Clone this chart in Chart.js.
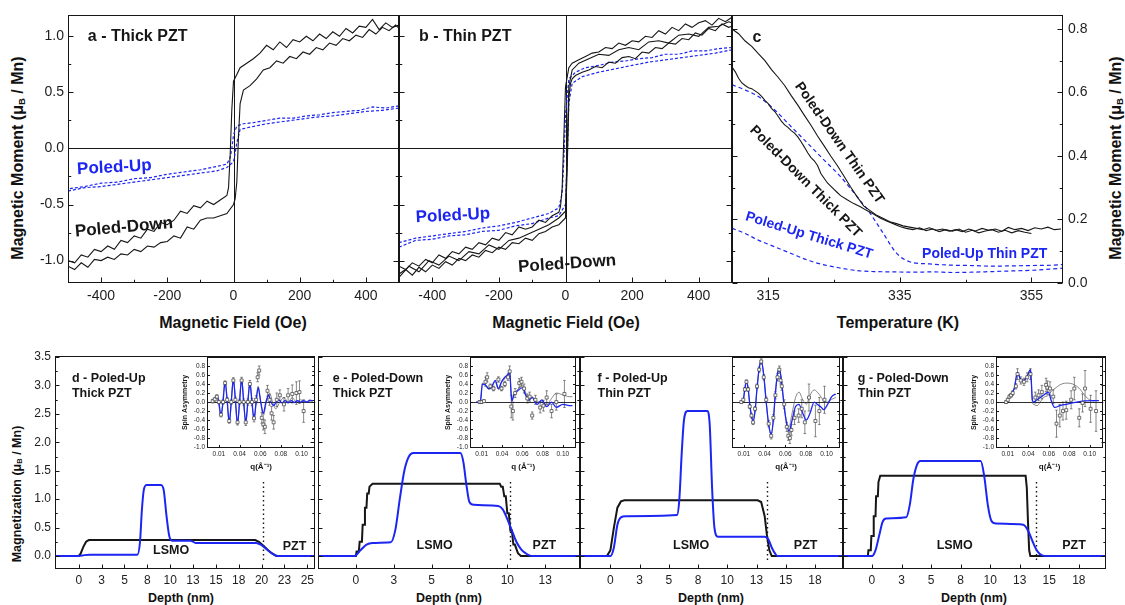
<!DOCTYPE html>
<html lang="en">
<head>
<meta charset="UTF-8">
<title>Magnetic moment and depth profiles, LSMO / PZT</title>
<script src="https://cdn.jsdelivr.net/npm/chart.js"></script>
<style>
  body { margin: 0; background: #fff; }
  #fig { position: relative; width: 1125px; height: 605px; overflow: hidden; background: #fff;
         font-family: Arial, "Liberation Sans", sans-serif; color: #111; }
  #fig canvas { position: absolute; }
  .ttl { position: absolute; font-weight: bold; white-space: nowrap; transform: translate(-50%, -50%); }
  .rot { transform: translate(-50%, -50%) rotate(-90deg); }
  sub { font-size: 0.6em; vertical-align: -0.2em; }
</style>
</head>
<body>
<div id="fig">
  <div class="ttl rot" style="left:18px;top:158px;font-size:16px">Magnetic Moment (&mu;<sub>B</sub> / Mn)</div>
  <div class="ttl rot" style="left:1116px;top:158px;font-size:16px">Magnetic Moment (&mu;<sub>B</sub> / Mn)</div>
  <div class="ttl" style="left:233px;top:323px;font-size:16px">Magnetic Field (Oe)</div>
  <div class="ttl" style="left:566px;top:323px;font-size:16px">Magnetic Field (Oe)</div>
  <div class="ttl" style="left:898px;top:323px;font-size:16px">Temperature (K)</div>
  <div class="ttl rot" style="left:17px;top:494px;font-size:12.5px">Magnetization (&mu;<sub>B</sub> / Mn)</div>
  <div class="ttl" style="left:181px;top:598px;font-size:12.5px">Depth (nm)</div>
  <div class="ttl" style="left:449px;top:598px;font-size:12.5px">Depth (nm)</div>
  <div class="ttl" style="left:711px;top:598px;font-size:12.5px">Depth (nm)</div>
  <div class="ttl" style="left:974px;top:598px;font-size:12.5px">Depth (nm)</div>
</div>

<script>
// ---------- panels a, b : hysteresis loops ----------
const fieldTicks = [-400, -200, 0, 200, 400];
const fieldDesc = [500,480,460,440,420,400,380,360,340,320,300,280,260,240,220,200,180,160,140,120,100,80,60,40,20,
  10,0,-5,-10,-15,-20,-40,-60,-80,-100,-120,-140,-160,-180,-200,-220,-240,-260,-280,-300,-320,-340,-360,-380,-400,-420,-440,-460,-480,-500];
const fieldAsc = [-500,-480,-460,-440,-420,-400,-380,-360,-340,-320,-300,-280,-260,-240,-220,-200,-180,-160,-140,-120,-100,-80,-60,-40,-20,
  0,5,10,15,20,30,50,70,90,110,130,150,170,190,210,230,250,270,290,310,330,350,370,390,410,430,450,470,490,500];
const blueDescH = [500,460,420,380,340,300,260,220,180,140,100,60,30,10,0,-5,-10,-20,-50,-100,-150,-200,-250,-300,-350,-400,-450,-500];
const blueAscH = [-500,-450,-400,-350,-300,-250,-200,-150,-100,-50,-20,0,5,10,20,50,100,150,200,250,300,350,400,450,500];

const aDownDesc = [1.10,1.08,1.12,1.06,1.15,1.08,1.09,1.03,1.07,1.00,1.04,0.98,1.02,0.96,1.00,0.95,0.97,0.90,0.95,0.88,0.92,0.85,0.80,0.76,0.72,
  0.66,0.60,0.35,-0.05,-0.35,-0.42,-0.46,-0.50,-0.47,-0.53,-0.51,-0.58,-0.56,-0.64,-0.68,-0.66,-0.74,-0.72,-0.80,-0.78,-0.84,-0.82,-0.90,-0.87,-0.92,-0.90,-0.97,-0.95,-1.02,-1.00];
const aDownAsc = [-1.05,-1.08,-1.02,-1.06,-0.99,-1.00,-0.97,-0.99,-0.94,-0.95,-0.90,-0.92,-0.87,-0.88,-0.84,-0.83,-0.78,-0.80,-0.70,-0.72,-0.64,-0.62,-0.62,-0.60,-0.58,
  -0.50,-0.45,-0.30,0.10,0.40,0.52,0.56,0.62,0.70,0.72,0.78,0.76,0.82,0.80,0.86,0.84,0.90,0.88,0.94,0.92,0.98,0.96,1.01,0.99,1.06,1.02,1.08,1.05,1.10,1.07];
const aUpDesc = [0.38,0.36,0.37,0.34,0.33,0.32,0.30,0.29,0.27,0.27,0.25,0.23,0.22,0.20,0.12,0.0,-0.08,-0.14,-0.16,-0.19,-0.21,-0.23,-0.26,-0.27,-0.30,-0.31,-0.34,-0.36];
const aUpAsc = [-0.38,-0.35,-0.34,-0.32,-0.30,-0.28,-0.26,-0.24,-0.22,-0.20,-0.17,-0.12,-0.04,0.05,0.17,0.19,0.22,0.24,0.26,0.28,0.29,0.31,0.33,0.34,0.36];

const bDownDesc = [1.17,1.13,1.16,1.10,1.14,1.12,1.08,1.11,1.05,1.08,1.02,1.05,0.99,1.00,0.95,0.96,0.92,0.94,0.89,0.90,0.86,0.85,0.82,0.79,0.76,
  0.72,0.55,0.10,-0.35,-0.52,-0.57,-0.60,-0.66,-0.64,-0.70,-0.72,-0.70,-0.77,-0.75,-0.82,-0.80,-0.86,-0.84,-0.90,-0.88,-0.94,-0.92,-0.98,-0.95,-1.02,-0.99,-1.05,-1.02,-1.08,-1.05];
const bDownAsc = [-1.12,-1.08,-1.13,-1.06,-1.10,-1.04,-1.07,-1.01,-1.04,-0.98,-1.00,-0.95,-0.97,-0.91,-0.93,-0.88,-0.90,-0.84,-0.85,-0.80,-0.82,-0.76,-0.74,-0.70,-0.68,
  -0.62,-0.20,0.45,0.58,0.62,0.65,0.68,0.70,0.73,0.72,0.77,0.76,0.81,0.82,0.80,0.86,0.85,0.90,0.89,0.94,0.93,0.98,0.97,1.03,1.01,1.07,1.05,1.11,1.08,1.09];
const bThirdH = [-500,-470,-440,-410,-380,-350,-320,-290,-260,-230,-200,-170,-140,-110,-80,-50,-20,0,5,10,20,40,70,100,130,160,190,220,250,280,310,340,370,400,430,460,490,500];
const bThirdM = [-1.15,-1.05,-1.10,-1.00,-1.04,-0.96,-1.00,-0.92,-0.94,-0.86,-0.90,-0.82,-0.80,-0.76,-0.72,-0.68,-0.62,-0.56,0.00,0.55,0.70,0.76,0.80,0.84,0.83,0.88,0.90,0.88,0.95,0.96,0.94,1.01,1.02,1.00,1.08,1.09,1.13,1.12];
const bUpDesc = [0.90,0.89,0.87,0.87,0.84,0.84,0.81,0.80,0.78,0.77,0.74,0.72,0.68,0.62,0.30,-0.10,-0.40,-0.53,-0.58,-0.62,-0.66,-0.69,-0.71,-0.74,-0.76,-0.78,-0.80,-0.84];
const bUpAsc = [-0.88,-0.82,-0.81,-0.78,-0.77,-0.74,-0.73,-0.69,-0.67,-0.62,-0.60,-0.50,-0.10,0.40,0.58,0.64,0.68,0.71,0.74,0.77,0.79,0.81,0.83,0.85,0.88];

// ---------- panel c : moment vs temperature ----------
const tempTicks = [315, 335, 355];
const thinT = [309.5,310.5,311.5,312.5,313.5,314.5,315.5,316.5,317.5,318.5,319.5,320.5,321.5,322.5,323.5,324.5,325.5,326.5,327.5,328.5,329.5,330.5,331.5,332.5,333.5,
  334.5,335.5,336.5,337.5,338.5,339.5,340.5,341.5,342.5,343.5,344.5,345.5,346.5,347.5,348.5,349.5,350.5,351.5,352.5,353.5,354.5,355.5,356.5,357.5,358.5,359.5];
const thinDown = [0.80,0.785,0.762,0.745,0.722,0.70,0.672,0.648,0.622,0.59,0.56,0.528,0.497,0.463,0.432,0.40,0.37,0.337,0.303,0.272,0.243,0.228,0.213,0.203,0.193,
  0.187,0.18,0.176,0.172,0.168,0.174,0.166,0.17,0.163,0.168,0.162,0.17,0.164,0.172,0.166,0.17,0.163,0.175,0.168,0.172,0.165,0.174,0.17,0.176,0.168,0.17];
const thickT = [309.5,310,310.5,311,311.5,312,312.5,313,313.5,314,314.5,315,315.5,316,316.5,317,317.5,318,318.5,319,319.5,320,320.5,321,321.5,322,322.5,323,323.5,324,324.5,325,325.5,326,
  327,328,329,330,331,332,333,334,335,336,337,338,339,340,341,342,343,344,345,346,347,348,349,350,351,352,353,354,355];
const thickDown = [0.68,0.665,0.645,0.63,0.622,0.615,0.612,0.605,0.598,0.588,0.575,0.565,0.55,0.54,0.525,0.51,0.498,0.49,0.48,0.472,0.46,0.445,0.428,0.41,0.395,0.385,0.37,0.345,0.33,0.315,0.305,0.295,0.285,0.275,
  0.262,0.25,0.24,0.228,0.217,0.205,0.195,0.187,0.178,0.172,0.168,0.174,0.165,0.17,0.162,0.168,0.163,0.17,0.16,0.166,0.158,0.164,0.168,0.16,0.166,0.158,0.165,0.16,0.156];
const upThinT = [309.5,311.5,313.5,316,318.5,321,323.5,326,328.5,330.5,332.5,334.5,336.5,339.5,343,346,349,352,355,358,359.8];
const upThin = [0.624,0.608,0.587,0.545,0.492,0.44,0.387,0.335,0.272,0.219,0.156,0.094,0.067,0.06,0.056,0.055,0.053,0.054,0.055,0.056,0.058];
const upThickT = [309.5,311.5,313.5,316,318.5,321,323.5,326,328.5,331,334,337,340,343,346,349,352,355,358,359.8];
const upThick = [0.172,0.156,0.135,0.114,0.093,0.072,0.057,0.047,0.039,0.036,0.035,0.034,0.035,0.033,0.034,0.036,0.038,0.04,0.044,0.047];

// ---------- panels d-g : depth profiles ----------
const magTicks = [0, 0.5, 1, 1.5, 2, 2.5, 3, 3.5];
const depthTicksD = [0, 2.5, 5, 7.5, 10, 12.5, 15, 17.5, 20, 22.5, 25];
const depthTicksE = [0, 2.5, 5, 7.5, 10, 12.5];
const depthTicksFG = [0, 2.5, 5, 7.5, 10, 12.5, 15, 17.5];
const interfaceDepth = [20.1, 10.2, 13.4, 13.9];
const interfaceTop = 1.3;

const dNucX = [-2.6,0,0.2,0.5,0.8,1.1,19.3,19.7,20.2,20.7,21.2,21.6,25.8];
const dNucY = [0,0,0.04,0.16,0.25,0.28,0.28,0.25,0.18,0.1,0.04,0,0];
const dMagX = [-2.6,0,0.6,1.2,6.4,6.7,6.9,7.1,7.4,9.0,9.3,9.6,9.9,10.2,12.2,12.8,19.4,19.9,20.4,20.9,21.4,21.8,25.8];
const dMagY = [0,0,0.015,0.02,0.02,0.25,0.8,1.15,1.25,1.25,1.15,0.7,0.35,0.27,0.27,0.23,0.23,0.2,0.14,0.07,0.02,0,0];

const eNucX = [-2.5,0.0,0.05,0.2,0.25,0.4,0.45,0.55,0.6,0.7,0.75,0.85,0.9,1.1,9.5,9.6,9.7,9.8,9.9,10.0,10.1,10.2,10.3,10.4,10.5,10.7,10.9,14.8];
const eNucY = [0,0,0.08,0.08,0.25,0.25,0.55,0.55,0.85,0.85,1.1,1.1,1.22,1.27,1.27,1.22,1.22,1.05,1.05,0.75,0.75,0.45,0.45,0.2,0.2,0.05,0,0];
const eMagX = [-2.5,-0.1,0.3,0.7,1.1,2.3,2.6,2.9,3.2,3.5,3.8,6.9,7.1,7.3,7.5,7.8,9.4,9.7,10.0,10.3,10.6,10.9,11.2,11.6,14.8];
const eMagY = [0,0,0.1,0.2,0.23,0.24,0.45,1.0,1.5,1.75,1.81,1.81,1.65,1.25,0.95,0.9,0.88,0.82,0.65,0.45,0.25,0.12,0.05,0,0];

const fNucX = [-2.6,-0.3,0.0,0.3,0.6,0.9,1.2,12.6,12.9,13.2,13.4,13.6,13.8,19.9];
const fNucY = [0,0,0.1,0.5,0.85,0.96,0.98,0.98,0.95,0.7,0.35,0.1,0,0];
const fMagX = [-2.6,0.0,0.3,0.6,0.9,1.3,5.7,5.9,6.1,6.3,6.6,8.3,8.5,8.7,8.9,9.2,13.2,13.5,13.8,14.1,14.3,19.9];
const fMagY = [0,0,0.15,0.55,0.68,0.7,0.72,1.0,1.8,2.4,2.55,2.55,2.3,1.2,0.5,0.34,0.34,0.3,0.15,0.04,0,0];

const gNucX = [-2.5,-0.35,-0.3,-0.1,-0.05,0.1,0.15,0.3,0.35,0.5,0.55,0.7,13.0,13.1,13.2,13.3,13.4,19.8];
const gNucY = [0,0,0.1,0.1,0.35,0.35,0.7,0.7,1.05,1.05,1.3,1.41,1.41,1.2,0.6,0.1,0,0];
const gMagX = [-2.5,0.0,0.3,0.6,0.9,1.2,2.9,3.2,3.5,3.8,4.1,9.2,9.5,9.8,10.1,10.5,12.8,13.2,13.6,14.0,14.4,14.8,19.8];
const gMagY = [0,0,0.1,0.35,0.6,0.66,0.68,0.9,1.35,1.6,1.67,1.67,1.4,0.9,0.62,0.57,0.55,0.45,0.25,0.08,0.01,0,0];

// ---------- insets : spin asymmetry ----------
const qTicks = [0.015, 0.035, 0.055, 0.075, 0.095];
const qTickLabels = ['0.01', '0.04', '0.06', '0.08', '0.10'];
const saTicks = [-1.0, -0.8, -0.6, -0.4, -0.2, 0, 0.2, 0.4, 0.6, 0.8];

const dBlueQ = [0.009,0.011,0.013,0.015,0.017,0.019,0.021,0.023,0.025,0.027,0.029,0.031,0.033,0.035,0.037,0.039,0.041,0.043,0.045,0.047,0.049,0.051,
  0.053,0.0555,0.058,0.0605,0.063,0.0655,0.068,0.0705,0.073,0.076,0.079,0.082,0.085,0.088,0.091,0.094,0.097,0.1,0.103,0.106];
const dBlueS = [0.02,0.06,0.15,0.0,-0.30,0.0,0.45,0.05,-0.45,0.0,0.50,0.05,-0.48,0.0,0.50,0.0,-0.45,0.0,0.42,0.0,-0.38,0.0,
  0.32,0.0,-0.25,0.0,0.15,0.0,-0.08,0.0,0.05,-0.02,0.03,-0.02,0.03,-0.01,0.03,0.0,0.03,0.0,0.04,0.03];
const dFitQ = [0.009,0.013,0.017,0.021,0.025,0.029,0.033,0.037,0.041,0.045,0.049,0.053,0.0555,0.058,0.061,0.064,0.067,0.07,0.074,0.078,0.082,0.086,0.09,0.094,0.098,0.102,0.106];
const dFitS = [0.02,0.15,-0.30,0.45,-0.45,0.50,-0.48,0.50,-0.45,0.42,-0.38,0.35,0.0,-0.30,0.0,0.20,0.0,-0.15,0.0,0.10,0.0,0.10,0.0,0.05,0.0,0.02,0.02];
const dSqQ = [0.009,0.011,0.013,0.015,0.017,0.019,0.021,0.023,0.025,0.027,0.029,0.031,0.033,0.035,0.037,0.039,0.041,0.043,0.045,0.047,0.049,0.051,
  0.0525,0.054,0.0565,0.058,0.0595,0.062,0.064,0.066,0.068,0.071,0.074,0.078,0.082,0.086,0.09,0.093,0.097];
const dSqS = [0.02,0.06,0.12,0.0,-0.28,0.0,0.42,0.05,-0.42,0.0,0.48,0.05,-0.45,0.0,0.48,0.0,-0.45,0.0,0.40,0.0,-0.36,0.05,
  0.55,0.70,-0.35,-0.50,-0.55,0.25,0.05,-0.25,-0.45,0.05,0.15,-0.05,0.15,0.18,0.20,0.22,-0.20];
const dSqE = [0.04,0.04,0.04,0.04,0.05,0.05,0.05,0.05,0.05,0.05,0.06,0.06,0.06,0.06,0.07,0.07,0.07,0.07,0.08,0.08,0.08,0.09,
  0.10,0.10,0.12,0.12,0.15,0.12,0.12,0.15,0.15,0.15,0.12,0.15,0.15,0.20,0.25,0.25,0.25];

const eBlueQ = [0.0095,0.0124,0.0140,0.0157,0.0188,0.0220,0.0251,0.0283,0.0315,0.0346,0.0378,0.0410,0.0426,0.0440,0.0448,0.0467,0.0505,0.0553,0.0584,0.0617,0.0648,0.0696,0.0743,0.0791,0.0839,0.0886,0.0950,0.1013,0.1045];
const eBlueS = [0.0,0.0,0.05,0.40,0.38,0.30,0.35,0.48,0.30,0.45,0.55,0.62,0.70,0.20,0.02,0.15,0.25,0.32,0.15,0.05,0.10,-0.05,0.05,-0.10,0.0,-0.12,-0.05,-0.08,-0.08];
const eFitS = [0.0,0.0,0.05,0.42,0.36,0.28,0.33,0.46,0.28,0.43,0.52,0.60,0.66,0.22,0.05,0.18,0.28,0.38,0.20,0.02,0.12,0.0,0.02,-0.06,0.08,0.20,0.16,0.12,0.12];
const eSqQ = [0.013,0.0149,0.0172,0.0188,0.0204,0.0236,0.0267,0.0315,0.0346,0.0378,0.041,0.0426,0.0442,0.0458,0.048,0.0521,0.0543,0.0568,0.06,0.0623,0.0648,0.068,0.0727,0.0759,0.0791,0.0839,0.0886,0.0966];
const eSqS = [0.0,0.0,0.02,0.45,0.55,0.35,0.30,0.50,0.30,0.40,0.55,0.68,-0.10,-0.20,0.20,0.42,0.45,0.30,0.08,0.12,-0.30,0.05,-0.12,-0.08,0.10,-0.20,0.00,0.18];
const eSqE = [0.03,0.03,0.03,0.10,0.10,0.05,0.05,0.06,0.05,0.06,0.07,0.12,0.25,0.20,0.10,0.10,0.10,0.10,0.10,0.10,0.08,0.10,0.12,0.12,0.15,0.15,0.18,0.30];

const fBlueQ = [0.0125,0.0144,0.0160,0.0175,0.0191,0.0207,0.0223,0.0239,0.0258,0.0277,0.0298,0.0318,0.0342,0.0366,0.0390,0.0414,0.0435,0.0455,0.0475,0.0493,
  0.0517,0.0540,0.0565,0.0588,0.0612,0.0650,0.0683,0.0720,0.0754,0.0790,0.0830,0.0860,0.0900,0.0921,0.0960,0.1000,0.1040];
const fBlueS = [0.0,0.05,0.30,0.48,0.30,-0.05,-0.30,-0.42,-0.20,0.30,0.75,0.92,0.60,0.0,-0.50,-0.72,-0.40,0.20,0.62,0.74,
  0.40,-0.10,-0.50,-0.64,-0.45,-0.10,-0.05,-0.25,-0.40,-0.25,0.0,-0.05,-0.12,-0.17,-0.05,0.12,0.18];
const fFitS = [0.0,0.05,0.30,0.48,0.30,-0.05,-0.30,-0.42,-0.20,0.30,0.75,0.92,0.60,0.0,-0.50,-0.72,-0.40,0.20,0.62,0.74,
  0.40,-0.10,-0.45,-0.55,-0.30,0.10,0.22,0.05,-0.05,0.15,0.27,0.22,0.10,0.02,0.0,0.06,0.10];
const fSqQ = [0.0125,0.0144,0.016,0.0175,0.0191,0.0207,0.0223,0.0239,0.0258,0.0277,0.0298,0.0318,0.0342,0.0366,0.039,0.0414,0.0435,0.0455,0.0475,0.0493,
  0.0505,0.0517,0.054,0.0565,0.058,0.0595,0.061,0.064,0.068,0.071,0.074,0.078,0.0842,0.088,0.093];
const fSqS = [0.0,0.05,0.28,0.45,0.28,-0.10,-0.30,-0.45,-0.15,0.35,0.72,0.90,0.55,0.05,-0.48,-0.75,-0.35,0.15,0.55,0.72,
  0.48,0.35,-0.05,-0.55,-0.75,-0.80,-0.62,-0.35,-0.30,-0.15,-0.45,0.10,-0.42,-0.20,0.05];
const fSqE = [0.03,0.03,0.04,0.04,0.04,0.04,0.05,0.05,0.05,0.05,0.06,0.06,0.06,0.06,0.07,0.07,0.07,0.08,0.08,0.08,
  0.08,0.09,0.10,0.10,0.10,0.12,0.12,0.15,0.15,0.20,0.25,0.30,0.35,0.30,0.30];

const gBlueQ = [0.0118,0.0134,0.0150,0.0182,0.0213,0.0245,0.0277,0.0308,0.0340,0.0372,0.0380,0.0390,0.0403,0.0435,0.0467,0.0499,0.0546,0.0579,0.0610,0.0658,0.0721,0.0784,0.0880,0.0996,0.1040];
const gBlueS = [-0.02,0.0,0.08,0.18,0.30,0.65,0.50,0.48,0.58,0.72,0.45,0.05,0.0,0.05,0.10,0.15,0.22,0.0,-0.12,-0.08,-0.05,-0.02,0.02,0.03,0.03];
const gFitQ = [0.0118,0.0134,0.0150,0.0182,0.0213,0.0245,0.0277,0.0308,0.0340,0.0372,0.0380,0.0390,0.0403,0.0435,0.0467,0.0499,0.0546,0.0579,0.0610,0.0658,0.0721,0.0784,0.0850,0.0900,0.0950,0.0996];
const gFitS = [-0.02,0.0,0.08,0.18,0.30,0.65,0.50,0.48,0.58,0.72,0.45,0.0,-0.05,-0.08,0.0,0.10,0.15,0.25,0.30,0.38,0.42,0.40,0.30,0.15,0.05,0.02];
const gSqQ = [0.0134,0.0150,0.0166,0.0182,0.0198,0.0229,0.0245,0.0277,0.0308,0.0340,0.0372,0.0419,0.0451,0.0483,0.0524,0.0537,0.0562,0.0594,0.0626,0.0658,0.0689,0.0721,0.0769,0.0800,0.0848,0.0880,0.0905,0.0959,0.1012];
const gSqS = [0.0,0.05,0.12,0.15,0.20,0.35,0.62,0.48,0.45,0.55,0.62,0.10,0.15,0.22,0.38,0.32,0.30,0.12,-0.48,-0.30,-0.20,-0.18,0.05,0.30,-0.35,-0.02,0.30,-0.15,-0.20];
const gSqE = [0.03,0.03,0.04,0.04,0.05,0.06,0.12,0.08,0.08,0.10,0.12,0.12,0.12,0.15,0.15,0.15,0.15,0.15,0.30,0.25,0.20,0.20,0.20,0.25,0.20,0.20,0.40,0.30,0.45];

// ---------- drawing helpers ----------
const FONT = 'Arial, "Liberation Sans", sans-serif';
const INK = '#161616';
const BLUE = '#1c25f2';

function pts(xs, ys) { return xs.map((v, i) => ({ x: v, y: ys[i] })); }

function line(xs, ys, color, width, dash, smooth) {
  return {
    data: pts(xs, ys), showLine: true, borderColor: color, backgroundColor: color,
    borderWidth: width, borderDash: dash || [], pointRadius: 0, tension: 0,
    cubicInterpolationMode: smooth ? 'monotone' : 'default'
  };
}

function squares(xs, ys, errs) {
  return {
    data: pts(xs, ys), errs: errs, showLine: false, pointStyle: 'rect', pointRadius: 2.1,
    pointBorderWidth: 0.7, borderColor: '#3a3a3a', backgroundColor: '#fff',
    pointBorderColor: '#3a3a3a', pointBackgroundColor: '#fff'
  };
}

// major ticks from the scale plus optional minor subdivisions
function tickSet(scale, sub) {
  const major = scale.ticks.map(t => t.value);
  const out = major.map(v => [v, true]);
  if (sub > 1 && major.length > 1) {
    const step = (major[1] - major[0]) / sub;
    let v = major[0] - Math.floor((major[0] - scale.min) / step + 1e-9) * step;
    for (; v <= scale.max + 1e-9; v += step) {
      if (!major.some(m => Math.abs(m - v) < step / 10)) out.push([v, false]);
    }
  }
  return out;
}

function frame(o) {
  return {
    id: 'frame',
    beforeDatasetsDraw(chart) {
      const { ctx, chartArea: a, scales: { x, y } } = chart;
      ctx.save();
      ctx.strokeStyle = INK;
      ctx.lineWidth = o.zeroWidth || 1;
      ctx.beginPath();
      if (o.zeroX) { const p = Math.round(x.getPixelForValue(0)) + 0.5; ctx.moveTo(p, a.top); ctx.lineTo(p, a.bottom); }
      if (o.zeroY) { const p = Math.round(y.getPixelForValue(0)) + 0.5; ctx.moveTo(a.left, p); ctx.lineTo(a.right, p); }
      ctx.stroke();
      if (o.iface != null) {
        ctx.setLineDash([1.3, 3.2]);
        ctx.lineWidth = 1.4;
        const p = Math.round(x.getPixelForValue(o.iface)) + 0.5;
        ctx.beginPath();
        ctx.moveTo(p, y.getPixelForValue(interfaceTop));
        ctx.lineTo(p, a.bottom - 6);
        ctx.stroke();
      }
      ctx.restore();
    },
    afterDatasetsDraw(chart) {
      const { ctx, chartArea: a, scales: { x, y } } = chart;
      ctx.save();
      ctx.strokeStyle = INK;
      ctx.lineWidth = 1;
      const L = Math.round(a.left) + 0.5, R = Math.round(a.right) - 0.5;
      const T = Math.round(a.top) + 0.5, B = Math.round(a.bottom) - 0.5;
      ctx.strokeRect(L, T, R - L, B - T);
      ctx.beginPath();
      tickSet(x, o.xSub).forEach(([v, major]) => {
        const p = Math.round(x.getPixelForValue(v)) + 0.5;
        const len = major ? o.len : o.len * 0.55;
        ctx.moveTo(p, B); ctx.lineTo(p, B - len);
      });
      tickSet(y, o.ySub).forEach(([v, major]) => {
        const p = Math.round(y.getPixelForValue(v)) + 0.5;
        const len = major ? o.len : o.len * 0.55;
        ctx.moveTo(L, p); ctx.lineTo(L + len, p);
        ctx.moveTo(R, p); ctx.lineTo(R - len, p);
      });
      ctx.stroke();
      ctx.restore();
    }
  };
}

const errBars = {
  id: 'errBars',
  beforeDatasetsDraw(chart) {
    const { ctx, chartArea: a, scales: { x, y } } = chart;
    ctx.save();
    ctx.beginPath(); ctx.rect(a.left, a.top, a.right - a.left, a.bottom - a.top); ctx.clip();
    ctx.strokeStyle = '#555'; ctx.lineWidth = 0.7;
    chart.data.datasets.forEach(ds => {
      if (!ds.errs) return;
      ds.data.forEach((p, i) => {
        const e = ds.errs[i];
        const px = x.getPixelForValue(p.x);
        const y1 = y.getPixelForValue(p.y - e), y2 = y.getPixelForValue(p.y + e);
        ctx.beginPath();
        ctx.moveTo(px, y1); ctx.lineTo(px, y2);
        ctx.moveTo(px - 1.3, y1); ctx.lineTo(px + 1.3, y1);
        ctx.moveTo(px - 1.3, y2); ctx.lineTo(px + 1.3, y2);
        ctx.stroke();
      });
    });
    ctx.restore();
  }
};

function notes(items) {
  return {
    id: 'notes',
    afterDatasetsDraw(chart) {
      const { ctx, scales: { x, y } } = chart;
      items.forEach(n => {
        ctx.save();
        ctx.translate(x.getPixelForValue(n.x), y.getPixelForValue(n.y));
        ctx.rotate((n.rot || 0) * Math.PI / 180);
        ctx.font = 'bold ' + n.size + 'px ' + FONT;
        ctx.fillStyle = n.color || INK;
        ctx.textAlign = n.align || 'center';
        ctx.textBaseline = 'middle';
        ctx.fillText(n.text, 0, 0);
        ctx.restore();
      });
    }
  };
}

function place(plot, m) {
  const cv = document.createElement('canvas');
  const w = plot[2] - plot[0] + m[0] + m[2], h = plot[3] - plot[1] + m[1] + m[3];
  cv.width = w; cv.height = h;
  cv.style.left = (plot[0] - m[0]) + 'px';
  cv.style.top = (plot[1] - m[1]) + 'px';
  cv.style.width = w + 'px'; cv.style.height = h + 'px';
  document.getElementById('fig').appendChild(cv);
  return cv;
}

function axis(s, size, position) {
  const horiz = position === 'bottom';
  const out = {
    type: 'linear', position: position, min: s.min, max: s.max,
    grid: { display: false, drawTicks: false }, border: { display: false },
    afterBuildTicks: sc => { sc.ticks = s.ticks.map(v => ({ value: v })); },
    afterFit: sc => { if (horiz) sc.height = size; else sc.width = size; },
    ticks: {
      display: s.show !== false, font: { family: FONT, size: s.font }, color: '#1e1e1e',
      padding: s.pad, maxRotation: 0, minRotation: 0, autoSkip: false, callback: s.fmt
    }
  };
  if (s.title) {
    out.title = { display: true, text: s.title, color: INK, padding: 0,
                  font: { family: FONT, size: s.titleSize, weight: 'bold' } };
  }
  return out;
}

function build(plot, m, cfg) {
  const cv = place(plot, m);
  const yRight = cfg.yPos === 'right';
  return new Chart(cv, {
    type: 'scatter',
    data: { datasets: cfg.datasets },
    options: {
      responsive: false, animation: false, events: [],
      layout: { padding: { left: yRight ? m[0] : 0, right: yRight ? 0 : m[2], top: m[1], bottom: 0 } },
      plugins: { legend: { display: false }, tooltip: { enabled: false } },
      scales: {
        x: axis(cfg.x, m[3], 'bottom'),
        y: axis(cfg.y, yRight ? m[2] : m[0], yRight ? 'right' : 'left')
      }
    },
    plugins: [errBars, frame(cfg.frame), notes(cfg.notes || [])]
  });
}

// ---------- axis setups ----------
const fix1 = v => v.toFixed(1);
const fieldAxis = { min: -500, max: 500, ticks: fieldTicks, fmt: v => String(v), font: 14, pad: 5 };
const momentAxis = { min: -1.2, max: 1.19, ticks: [-1, -0.5, 0, 0.5, 1], fmt: fix1, font: 14, pad: 4 };
const momentAxisHidden = Object.assign({}, momentAxis, { show: false });
const topFrame = { len: 5, xSub: 2, ySub: 2, zeroX: true, zeroY: true };
const depthY = { min: -0.229, max: 3.518, ticks: magTicks, fmt: fix1, font: 12, pad: 4 };
const depthYHidden = Object.assign({}, depthY, { show: false });
const roundLbl = v => String(Math.round(v));

// ---------- panel a ----------
build([68, 15, 399, 283], [60, 15, 0, 30], {
  x: fieldAxis, y: momentAxis, frame: topFrame,
  datasets: [
    line(fieldDesc, aDownDesc, INK, 1.1),
    line(fieldAsc, aDownAsc, INK, 1.1),
    line(blueDescH, aUpDesc, BLUE, 1.2, [3, 2]),
    line(blueAscH, aUpAsc, BLUE, 1.2, [3, 2])
  ],
  notes: [
    { text: 'a - Thick PZT', x: -440, y: 1.0, size: 16, align: 'left' },
    { text: 'Poled-Up', x: -360, y: -0.17, size: 17, color: BLUE, rot: -3 },
    { text: 'Poled-Down', x: -331, y: -0.705, size: 17, rot: -5 }
  ]
});

// ---------- panel b ----------
build([399, 15, 732, 283], [0, 15, 0, 30], {
  x: fieldAxis, y: momentAxisHidden, frame: topFrame,
  datasets: [
    line(fieldDesc, bDownDesc, INK, 1.1),
    line(fieldAsc, bDownAsc, INK, 1.1),
    line(bThirdH, bThirdM, INK, 1.1),
    line(blueDescH, bUpDesc, BLUE, 1.2, [3, 2]),
    line(blueAscH, bUpAsc, BLUE, 1.2, [3, 2])
  ],
  notes: [
    { text: 'b - Thin PZT', x: -440, y: 1.0, size: 16, align: 'left' },
    { text: 'Poled-Up', x: -338, y: -0.6, size: 17, color: BLUE, rot: -3 },
    { text: 'Poled-Down', x: 5, y: -1.03, size: 17, rot: -4 }
  ]
});

// ---------- panel c ----------
build([732, 15, 1063, 283], [0, 15, 42, 30], {
  yPos: 'right',
  x: { min: 309.5, max: 359.8, ticks: tempTicks, fmt: v => String(v), font: 14, pad: 5 },
  y: { min: 0, max: 0.844, ticks: [0, 0.2, 0.4, 0.6, 0.8], fmt: fix1, font: 14, pad: 5 },
  frame: { len: 5, xSub: 2, ySub: 2 },
  datasets: [
    line(thinT, thinDown, INK, 1.1),
    line(thickT, thickDown, INK, 1.1),
    line(upThinT, upThin, BLUE, 1.2, [4, 3], true),
    line(upThickT, upThick, BLUE, 1.2, [4, 3], true)
  ],
  notes: [
    { text: 'c', x: 313.3, y: 0.772, size: 16 },
    { text: 'Poled-Down Thin PZT', x: 325.8, y: 0.441, size: 14, rot: 55 },
    { text: 'Poled-Down Thick PZT', x: 320.7, y: 0.319, size: 14, rot: 45 },
    { text: 'Poled-Up Thick PZT', x: 321.2, y: 0.149, size: 14, color: BLUE, rot: 17 },
    { text: 'Poled-Up Thin PZT', x: 347.9, y: 0.091, size: 14, color: BLUE }
  ]
});

// ---------- panels d - g ----------
const depthPanels = [
  { plot: [55, 356, 318, 569], m: [45, 16, 0, 26], x: [-2.6, 25.8], ticks: depthTicksD, y: depthY,
    nuc: [dNucX, dNucY], mag: [dMagX, dMagY], iface: interfaceDepth[0],
    lbl: ['d - Poled-Up', 'Thick PZT'], lx: -0.75, lsmo: [10.1, 0.09], pzt: [23.6, 0.16] },
  { plot: [318, 356, 580, 569], m: [0, 16, 0, 26], x: [-2.5, 14.8], ticks: depthTicksE, y: depthYHidden,
    nuc: [eNucX, eNucY], mag: [eMagX, eMagY], iface: interfaceDepth[1],
    lbl: ['e - Poled-Down', 'Thick PZT'], lx: -1.52, lsmo: [5.2, 0.18], pzt: [12.45, 0.18] },
  { plot: [580, 356, 843, 569], m: [0, 16, 0, 26], x: [-2.6, 19.9], ticks: depthTicksFG, y: depthYHidden,
    nuc: [fNucX, fNucY], mag: [fMagX, fMagY], iface: interfaceDepth[2],
    lbl: ['f - Poled-Up', 'Thin PZT'], lx: -1.1, lsmo: [6.9, 0.18], pzt: [16.7, 0.18] },
  { plot: [843, 356, 1106, 569], m: [0, 16, 4, 26], x: [-2.45, 19.8], ticks: depthTicksFG, y: depthYHidden,
    nuc: [gNucX, gNucY], mag: [gMagX, gMagY], iface: interfaceDepth[3],
    lbl: ['g - Poled-Down', 'Thin PZT'], lx: -1.2, lsmo: [7.0, 0.18], pzt: [17.1, 0.18] }
];

depthPanels.forEach(p => {
  build(p.plot, p.m, {
    x: { min: p.x[0], max: p.x[1], ticks: p.ticks, fmt: roundLbl, font: 12, pad: 4 },
    y: p.y,
    frame: { len: 4, xSub: 1, ySub: 2, iface: p.iface },
    datasets: [
      line(p.mag[0], p.mag[1], BLUE, 2, null, true),
      line(p.nuc[0], p.nuc[1], INK, 2)
    ],
    notes: [
      { text: p.lbl[0], x: p.lx, y: 3.13, size: 12.5, align: 'left' },
      { text: p.lbl[1], x: p.lx, y: 2.85, size: 12.5, align: 'left' },
      { text: 'LSMO', x: p.lsmo[0], y: p.lsmo[1], size: 12.5 },
      { text: 'PZT', x: p.pzt[0], y: p.pzt[1], size: 12.5 }
    ]
  });
});

// ---------- insets ----------
const insets = [
  { plot: [207, 357, 317, 448], labels: true, qLbl: 'q(Å⁻¹)', sq: [dSqQ, dSqS, dSqE], blue: [dBlueQ, dBlueS], fit: [dFitQ, dFitS] },
  { plot: [470, 357, 578, 448], labels: true, qLbl: 'q (Å⁻¹)', sq: [eSqQ, eSqS, eSqE], blue: [eBlueQ, eBlueS], fit: [eBlueQ, eFitS] },
  { plot: [732, 357, 842, 448], labels: false, qLbl: 'q(Å⁻¹)', sq: [fSqQ, fSqS, fSqE], blue: [fBlueQ, fBlueS], fit: [fBlueQ, fFitS] },
  { plot: [996, 357, 1105, 448], labels: true, qLbl: 'q(Å⁻¹)', sq: [gSqQ, gSqS, gSqE], blue: [gBlueQ, gBlueS], fit: [gFitQ, gFitS] }
];

insets.forEach(p => {
  build(p.plot, [26, 6, 3, 24], {
    x: { min: 0.0035, max: 0.1083, ticks: qTicks, fmt: (v, i) => qTickLabels[i], font: 6.5, pad: 2,
         title: p.qLbl, titleSize: 8 },
    y: { min: -1.02, max: 1.0, ticks: saTicks, fmt: fix1, font: 6.5, pad: 2, show: p.labels,
         title: p.labels ? 'Spin Asymmetry' : null, titleSize: 7 },
    frame: { len: 2.5, xSub: 1, ySub: 1, zeroY: true, zeroWidth: 0.9 },
    datasets: [
      squares(p.sq[0], p.sq[1], p.sq[2]),
      line(p.blue[0], p.blue[1], BLUE, 1.3, null, true),
      line(p.fit[0], p.fit[1], '#555', 0.7, null, true)
    ]
  });
});
</script>
</body>
</html>
